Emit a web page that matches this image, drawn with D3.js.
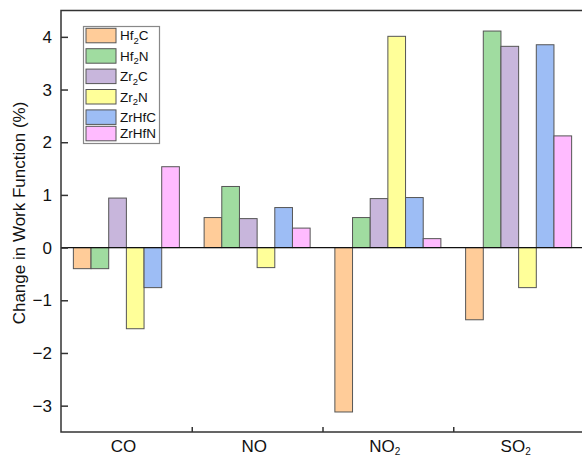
<!DOCTYPE html>
<html lang="en">
<meta charset="UTF-8">
<script src="https://d3js.org/d3.v7.min.js"></script>
<style>
body { margin: 0; background: #fff; }
text { font-family: "Liberation Sans", Arial, sans-serif; fill: #111; }
</style>
<body>
<div id="chart"></div>
<script>
// gases on the x axis, [base, subscript]
var gases = [["CO", ""], ["NO", ""], ["NO", "2"], ["SO", "2"]];
// materials, [base, subscript, tail]
var materials = [["Hf", "2", "C"], ["Hf", "2", "N"], ["Zr", "2", "C"], ["Zr", "2", "N"], ["ZrHfC", "", ""], ["ZrHfN", "", ""]];
var colors = ["#ffcc99", "#a0dca0", "#c8b6dc", "#ffff99", "#9dbdf5", "#ffbbff"];

// change in work function (%) per material, one value per gas
var hf2c  = [-0.40, 0.57, -3.12, -1.37];
var hf2n  = [-0.40, 1.16, 0.57, 4.11];
var zr2c  = [0.94, 0.55, 0.93, 3.82];
var zr2n  = [-1.54, -0.38, 4.01, -0.76];
var zrhfc = [-0.76, 0.76, 0.95, 3.85];
var zrhfn = [1.535, 0.37, 0.17, 2.12];
var series = [hf2c, hf2n, zr2c, zr2n, zrhfc, zrhfn];

var yTicks = [-3, -2, -1, 0, 1, 2, 3, 4];

var W = 582, H = 458;
var plot = {left: 61, right: 584, top: 10.5, bottom: 432};

var svg = d3.select("#chart").append("svg")
    .attr("width", W).attr("height", H);

var x0 = d3.scaleBand().domain(d3.range(gases.length)).range([plot.left, plot.right]);
var x1 = d3.scaleBand().domain(d3.range(materials.length)).range([0, x0.bandwidth()]).paddingOuter(0.7);
var y = d3.scaleLinear().domain([-3.5, 4.5]).range([plot.bottom, plot.top]);

// bars
series.forEach(function(vals, m) {
  svg.append("g").selectAll("rect")
    .data(vals)
    .join("rect")
      .attr("x", function(d, i) { return x0(i) + x1(m); })
      .attr("y", function(d) { return y(Math.max(0, d)); })
      .attr("width", x1.bandwidth())
      .attr("height", function(d) { return Math.abs(y(d) - y(0)); })
      .attr("fill", colors[m])
      .attr("stroke", "#555")
      .attr("stroke-width", 1);
});

// zero line
svg.append("line")
    .attr("x1", plot.left).attr("x2", plot.right)
    .attr("y1", y(0)).attr("y2", y(0))
    .attr("stroke", "#111").attr("stroke-width", 1.2);

// frame
svg.append("rect")
    .attr("x", plot.left).attr("y", plot.top)
    .attr("width", plot.right - plot.left).attr("height", plot.bottom - plot.top)
    .attr("fill", "none").attr("stroke", "#333").attr("stroke-width", 1.5);

// y axis (ticks inward)
var yAxis = svg.append("g")
    .attr("transform", "translate(" + plot.left + ",0)")
    .call(d3.axisRight(y).tickValues(yTicks).tickSize(7).tickFormat(""));
yAxis.select(".domain").remove();
yAxis.selectAll("line").attr("stroke", "#333").attr("stroke-width", 1.5);

svg.append("g").selectAll("text")
  .data(yTicks)
  .join("text")
    .attr("x", 52)
    .attr("y", function(d) { return y(d); })
    .attr("dy", "0.36em")
    .attr("text-anchor", "end")
    .style("font-size", "17px")
    .text(function(d) { return d < 0 ? "\u2212" + Math.abs(d) : d; });

svg.append("text")
    .attr("transform", "translate(19," + 213 + ") rotate(-90)")
    .attr("text-anchor", "middle")
    .attr("dy", "0.35em")
    .style("font-size", "17px")
    .text("Change in Work Function (%)");

// x axis ticks at group boundaries (inward)
var xAxis = svg.append("g")
    .attr("transform", "translate(0," + plot.bottom + ")")
    .call(d3.axisTop(d3.scaleLinear().domain([0, gases.length]).range([plot.left, plot.right]))
      .tickValues([1, 2, 3]).tickSize(5).tickFormat(""));
xAxis.select(".domain").remove();
xAxis.selectAll("line").attr("stroke", "#333").attr("stroke-width", 1.5);

var gl = svg.append("g").selectAll("text")
  .data(gases)
  .join("text")
    .attr("x", function(d, i) { return x0(i) + x0.bandwidth() / 2 - 3; })
    .attr("y", 452)
    .attr("text-anchor", "middle")
    .style("font-size", "17px");
gl.append("tspan").text(function(d) { return d[0]; });
gl.append("tspan").attr("dy", 3).style("font-size", "10px").text(function(d) { return d[1]; });

// legend
var lg = svg.append("g");
var rowY = [], cy = 28.3;
materials.forEach(function(m) { rowY.push(cy); cy += m[1] ? 20.4 : 16.4; });
lg.append("rect")
    .attr("x", 83.5).attr("y", 26.5)
    .attr("width", 76).attr("height", 117)
    .attr("fill", "#fff").attr("stroke", "#888").attr("stroke-width", 1.2);
materials.forEach(function(m, i) {
  lg.append("rect")
      .attr("x", 86).attr("y", rowY[i])
      .attr("width", 30).attr("height", 14.5)
      .attr("fill", colors[i]).attr("stroke", "#555").attr("stroke-width", 1);
  var t = lg.append("text")
      .attr("x", 120).attr("y", rowY[i] + 12)
      .style("font-size", "13.5px");
  t.append("tspan").text(m[0]);
  if (m[1]) {
    t.append("tspan").attr("dy", 3.5).style("font-size", "9.5px").text(m[1]);
    t.append("tspan").attr("dy", -3.5).text(m[2]);
  }
});
</script>
</body>
</html>
